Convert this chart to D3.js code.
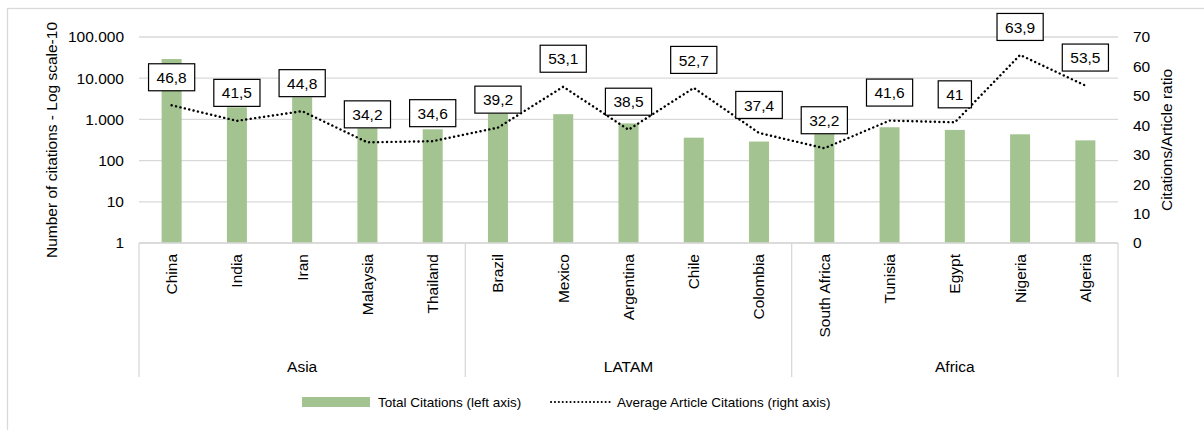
<!DOCTYPE html>
<html>
<head>
<meta charset="utf-8">
<script src="https://cdn.jsdelivr.net/npm/d3@7"></script>
<style>
  body { margin: 0; background: #fff; }
  text { font-family: "Liberation Sans", Arial, sans-serif; fill: #000; }
</style>
</head>
<body>
<div id="chart"></div>
<script>
// Data
const regions = ["Asia", "LATAM", "Africa"];
const countries = ["China", "India", "Iran", "Malaysia", "Thailand",
  "Brazil", "Mexico", "Argentina", "Chile", "Colombia",
  "South Africa", "Tunisia", "Egypt", "Nigeria", "Algeria"];
const countryRegion = ["Asia", "Asia", "Asia", "Asia", "Asia",
  "LATAM", "LATAM", "LATAM", "LATAM", "LATAM",
  "Africa", "Africa", "Africa", "Africa", "Africa"];
const totalCitations = [29200, 1970, 3440, 610, 575, 1380, 1340, 800, 360, 290, 440, 645, 555, 435, 310];
const avgCitations = [46.8, 41.5, 44.8, 34.2, 34.6, 39.2, 53.1, 38.5, 52.7, 37.4, 32.2, 41.6, 41, 63.9, 53.5];
const avgLabels = ["46,8", "41,5", "44,8", "34,2", "34,6", "39,2", "53,1", "38,5", "52,7", "37,4", "32,2", "41,6", "41", "63,9", "53,5"];
const leftTicks = [1, 10, 100, 1000, 10000, 100000];
const leftTickLabels = ["1", "10", "100", "1.000", "10.000", "100.000"];
const rightTicks = [0, 10, 20, 30, 40, 50, 60, 70];

const W = 1204, H = 430;
const margin = { top: 37, right: 86, bottom: 187, left: 139 };
const plotW = W - margin.left - margin.right;
const plotH = H - margin.top - margin.bottom;
const fs = "15.5px";
const grid = "#d9d9d9";
const green = "#a3c490";

const svg = d3.select("#chart").append("svg")
  .attr("width", W)
  .attr("height", H);

// chart frame
svg.append("rect")
  .attr("x", 7.5).attr("y", 8.5)
  .attr("width", W + 20).attr("height", H + 20)
  .attr("fill", "none")
  .attr("stroke", grid)
  .attr("stroke-width", 1.3);

const g = svg.append("g")
  .attr("transform", `translate(${margin.left},${margin.top})`);

// Scales
const x = d3.scaleBand().domain(countries).range([0, plotW]).padding(0);
const yLeft = d3.scaleLog().domain([1, 100000]).range([plotH, 0]);
const yRight = d3.scaleLinear().domain([0, 70]).range([plotH, 0]);

// gridlines
g.selectAll(".grid")
  .data(leftTicks)
  .enter().append("line")
  .attr("x1", 0).attr("x2", plotW)
  .attr("y1", d => yLeft(d)).attr("y2", d => yLeft(d))
  .attr("stroke", grid)
  .attr("stroke-width", 1.3);

// Left axis
const leftAxis = g.append("g")
  .call(d3.axisLeft(yLeft).tickValues(leftTicks)
    .tickFormat((d, i) => leftTickLabels[i]).tickSize(0).tickPadding(15));
leftAxis.select(".domain").remove();
leftAxis.selectAll("text").style("font-size", fs).style("font-family", null);

// Right axis
const rightAxis = g.append("g")
  .attr("transform", `translate(${plotW},0)`)
  .call(d3.axisRight(yRight).tickValues(rightTicks).tickSize(0).tickPadding(15));
rightAxis.select(".domain").remove();
rightAxis.selectAll("text").style("font-size", fs).style("font-family", null);

// Bars
const barW = 20;
g.selectAll(".bar")
  .data(countries)
  .enter().append("rect")
  .attr("class", "bar")
  .attr("x", d => x(d) + x.bandwidth() / 2 - barW / 2)
  .attr("width", barW)
  .attr("y", (d, i) => yLeft(totalCitations[i]))
  .attr("height", (d, i) => plotH - yLeft(totalCitations[i]))
  .attr("fill", green);

// category axis line and region separators
g.append("line")
  .attr("x1", 0).attr("x2", plotW)
  .attr("y1", plotH).attr("y2", plotH)
  .attr("stroke", grid).attr("stroke-width", 1.3);

const sepX = [0];
regions.forEach(r => {
  const last = countries.filter((c, i) => countryRegion[i] === r);
  sepX.push(x(last[last.length - 1]) + x.bandwidth());
});
g.selectAll(".sep")
  .data(sepX)
  .enter().append("line")
  .attr("x1", d => d).attr("x2", d => d)
  .attr("y1", plotH).attr("y2", plotH + 134)
  .attr("stroke", grid).attr("stroke-width", 1.3);

// Country labels
g.selectAll(".cat")
  .data(countries)
  .enter().append("text")
  .attr("transform", d => `translate(${x(d) + x.bandwidth() / 2},${plotH + 11}) rotate(-90)`)
  .attr("text-anchor", "end")
  .attr("dy", "0.35em")
  .style("font-size", fs)
  .text(d => d);

// Region labels
g.selectAll(".region")
  .data(regions)
  .enter().append("text")
  .attr("x", (d, i) => (sepX[i] + sepX[i + 1]) / 2)
  .attr("y", plotH + 124)
  .attr("text-anchor", "middle")
  .attr("dy", "0.35em")
  .style("font-size", fs)
  .text(d => d);

// Line (right axis)
const line = d3.line()
  .x((d, i) => x(countries[i]) + x.bandwidth() / 2)
  .y(d => yRight(d));

g.append("path")
  .datum(avgCitations)
  .attr("d", line)
  .attr("fill", "none")
  .attr("stroke", "#000")
  .attr("stroke-width", 2.4)
  .attr("stroke-linecap", "round")
  .attr("stroke-dasharray", "0.1 4.4");

// Data labels in boxes
const labels = g.selectAll(".lbl")
  .data(avgCitations)
  .enter().append("g")
  .attr("transform", (d, i) => `translate(${x(countries[i]) + x.bandwidth() / 2},${yRight(d) - 28})`);

labels.append("text")
  .attr("text-anchor", "middle")
  .attr("dy", "0.36em")
  .style("font-size", fs)
  .text((d, i) => avgLabels[i]);

labels.each(function () {
  const t = d3.select(this).select("text");
  const bb = t.node().getBBox();
  d3.select(this).insert("rect", "text")
    .attr("x", -bb.width / 2 - 8)
    .attr("y", -13.5)
    .attr("width", bb.width + 16)
    .attr("height", 27)
    .attr("fill", "#fff")
    .attr("stroke", "#000")
    .attr("stroke-width", 1.2);
});

// Axis titles
svg.append("text")
  .attr("transform", "translate(52,140) rotate(-90)")
  .attr("text-anchor", "middle")
  .attr("dy", "0.35em")
  .style("font-size", fs)
  .text("Number of citations - Log scale-10");

svg.append("text")
  .attr("transform", "translate(1167,140) rotate(-90)")
  .attr("text-anchor", "middle")
  .attr("dy", "0.35em")
  .style("font-size", fs)
  .text("Citations/Article ratio");

// Legend
const lfs = "13.5px";
const legend = svg.append("g").attr("transform", "translate(302,402)");
legend.append("rect")
  .attr("x", 0).attr("y", -5)
  .attr("width", 68).attr("height", 10)
  .attr("fill", green);
legend.append("text")
  .attr("x", 76).attr("dy", "0.35em")
  .style("font-size", lfs)
  .text("Total Citations (left axis)");
legend.append("line")
  .attr("x1", 249).attr("x2", 308)
  .attr("y1", 0).attr("y2", 0)
  .attr("stroke", "#000")
  .attr("stroke-width", 2)
  .attr("stroke-linecap", "round")
  .attr("stroke-dasharray", "0.1 3.8");
legend.append("text")
  .attr("x", 315).attr("dy", "0.35em")
  .style("font-size", lfs)
  .text("Average Article Citations (right axis)");
</script>
</body>
</html>
